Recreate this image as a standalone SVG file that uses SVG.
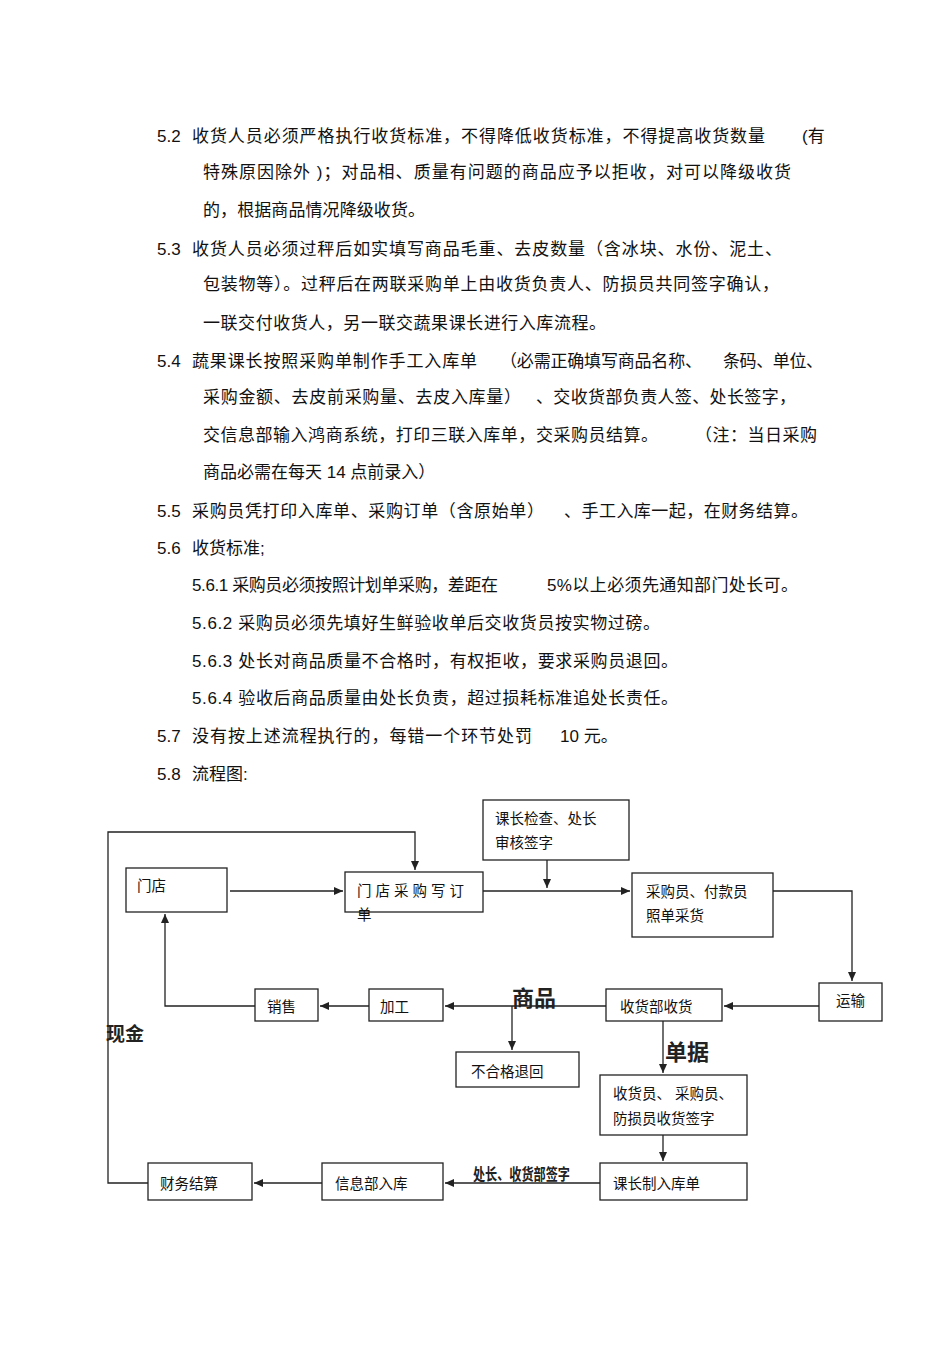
<svg xmlns="http://www.w3.org/2000/svg" width="950" height="1345" viewBox="0 0 950 1345">
<style>
.t{font-family:"Liberation Sans","Noto Sans CJK SC",sans-serif;font-size:17px;fill:#111}
.n{font-family:"Liberation Sans","Noto Sans CJK SC",sans-serif;font-size:14.5px;fill:#111}
.b{font-family:"Noto Sans CJK SC",sans-serif;font-weight:bold;fill:#222}
.box{fill:#fff;stroke:#222;stroke-width:1.3}
.c{fill:none;stroke:#222;stroke-width:1.3}
</style>
<defs><marker id="a" markerWidth="10" markerHeight="10" refX="9" refY="5" orient="auto" markerUnits="userSpaceOnUse"><path d="M0,1 L9,5 L0,9 Z" fill="#222"/></marker></defs>
<rect width="950" height="1345" fill="#fff"/>
<g id="text">
<text class="t" x="157" y="142">5.2</text><text class="t" x="192" y="142" textLength="573">收货人员必须严格执行收货标准，不得降低收货标准，不得提高收货数量</text><text class="t" x="802" y="142">(有</text>
<text class="t" x="203" y="178" textLength="588">特殊原因除外 )；对品相、质量有问题的商品应予以拒收，对可以降级收货</text>
<text class="t" x="203" y="216" textLength="222">的，根据商品情况降级收货。</text>
<text class="t" x="157" y="255">5.3</text><text class="t" x="192" y="255" textLength="590">收货人员必须过秤后如实填写商品毛重、去皮数量（含冰块、水份、泥土、</text>
<text class="t" x="203" y="290" textLength="576">包装物等）。过秤后在两联采购单上由收货负责人、防损员共同签字确认，</text>
<text class="t" x="203" y="329" textLength="403">一联交付收货人，另一联交蔬果课长进行入库流程。</text>
<text class="t" x="157" y="367">5.4</text><text class="t" x="192" y="367" textLength="285">蔬果课长按照采购单制作手工入库单</text><text class="t" x="500" y="367" textLength="202">（必需正确填写商品名称、</text><text class="t" x="723" y="367" textLength="100">条码、单位、</text>
<text class="t" x="203" y="403" textLength="318">采购金额、去皮前采购量、去皮入库量）</text><text class="t" x="536" y="403" textLength="260">、交收货部负责人签、处长签字，</text>
<text class="t" x="203" y="441" textLength="455">交信息部输入鸿商系统，打印三联入库单，交采购员结算。</text><text class="t" x="695" y="441" textLength="122">（注：当日采购</text>
<text class="t" x="203" y="478">商品必需在每天  14 点前录入）</text>
<text class="t" x="157" y="517">5.5</text><text class="t" x="192" y="517" textLength="352">采购员凭打印入库单、采购订单（含原始单）</text><text class="t" x="564" y="517" textLength="244">、手工入库一起，在财务结算。</text>
<text class="t" x="157" y="554">5.6</text><text class="t" x="192" y="554">收货标准;</text>
<text class="t" x="192" y="591" textLength="306">5.6.1 采购员必须按照计划单采购，差距在</text><text class="t" x="547" y="591" textLength="251">5%以上必须先通知部门处长可。</text>
<text class="t" x="192" y="629" textLength="468">5.6.2 采购员必须先填好生鲜验收单后交收货员按实物过磅。</text>
<text class="t" x="192" y="667" textLength="486">5.6.3 处长对商品质量不合格时，有权拒收，要求采购员退回。</text>
<text class="t" x="192" y="704" textLength="486">5.6.4 验收后商品质量由处长负责，超过损耗标准追处长责任。</text>
<text class="t" x="157" y="742">5.7</text><text class="t" x="192" y="742" textLength="340">没有按上述流程执行的，每错一个环节处罚</text><text class="t" x="560" y="742">10 元。</text>
<text class="t" x="157" y="780">5.8</text><text class="t" x="192" y="780">流程图:</text>
</g>
<g id="connectors">
<polyline class="c" points="148,1183 108,1183 108,832 415,832 415,870" marker-end="url(#a)"/>
<line class="c" x1="230" y1="891" x2="343" y2="891" marker-end="url(#a)"/>
<line class="c" x1="483" y1="891" x2="630" y2="891" marker-end="url(#a)"/>
<line class="c" x1="547" y1="860" x2="547" y2="888" marker-end="url(#a)"/>
<polyline class="c" points="773,891 852,891 852,981" marker-end="url(#a)"/>
<line class="c" x1="819" y1="1006" x2="724" y2="1006" marker-end="url(#a)"/>
<line class="c" x1="606" y1="1006" x2="445" y2="1006" marker-end="url(#a)"/>
<line class="c" x1="369" y1="1006" x2="320" y2="1006" marker-end="url(#a)"/>
<polyline class="c" points="255,1006 165,1006 165,914" marker-end="url(#a)"/>
<line class="c" x1="512" y1="1006" x2="512" y2="1050" marker-end="url(#a)"/>
<line class="c" x1="663" y1="1021" x2="663" y2="1073" marker-end="url(#a)"/>
<line class="c" x1="663" y1="1135" x2="663" y2="1161" marker-end="url(#a)"/>
<line class="c" x1="600" y1="1183" x2="445" y2="1183" marker-end="url(#a)"/>
<line class="c" x1="322" y1="1183" x2="254" y2="1183" marker-end="url(#a)"/>
</g>
<g id="n1"><rect class="box" x="126" y="868" width="101" height="44" stroke-width="2"/><text class="n" x="137" y="891">门店</text></g>
<g id="n2"><rect class="box" x="345" y="872" width="138" height="40"/><text class="n" x="357" y="896" letter-spacing="4">门店采购写订</text><text class="n" x="357" y="920">单</text></g>
<g id="n3"><rect class="box" x="483" y="800" width="146" height="60" stroke-width="1.8"/><text class="n" x="495" y="824">课长检查、处长</text><text class="n" x="495" y="848">审核签字</text></g>
<g id="n4"><rect class="box" x="632" y="873" width="141" height="64" stroke-width="1.8"/><text class="n" x="646" y="897">采购员、付款员</text><text class="n" x="646" y="921">照单采货</text></g>
<g id="n5"><rect class="box" x="819" y="983" width="63" height="38"/><text class="n" x="836" y="1006">运输</text></g>
<g id="n6"><rect class="box" x="606" y="989" width="116" height="32"/><text class="n" x="620" y="1012">收货部收货</text></g>
<g id="n7"><rect class="box" x="369" y="989" width="74" height="32"/><text class="n" x="380" y="1012">加工</text></g>
<g id="n8"><rect class="box" x="255" y="989" width="63" height="32"/><text class="n" x="267" y="1012">销售</text></g>
<g id="n9"><rect class="box" x="456" y="1052" width="123" height="35"/><text class="n" x="471" y="1077">不合格退回</text></g>
<g id="n10"><rect class="box" x="600" y="1075" width="147" height="60"/><text class="n" x="613" y="1099">收货员、 采购员、</text><text class="n" x="613" y="1124">防损员收货签字</text></g>
<g id="n11"><rect class="box" x="600" y="1163" width="147" height="37"/><text class="n" x="613" y="1189">课长制入库单</text></g>
<g id="n12"><rect class="box" x="322" y="1163" width="121" height="37"/><text class="n" x="335" y="1189">信息部入库</text></g>
<g id="n13"><rect class="box" x="148" y="1163" width="104" height="37"/><text class="n" x="160" y="1189">财务结算</text></g>
<g id="labels">
<text class="b" x="512" y="1006" font-size="22">商品</text>
<text class="b" x="665" y="1060" font-size="22">单据</text>
<text class="b" x="106" y="1041" font-size="19">现金</text>
<text class="b" x="473" y="1180" font-size="16" textLength="97" lengthAdjust="spacingAndGlyphs">处长、收货部签字</text>
</g>
</svg>
